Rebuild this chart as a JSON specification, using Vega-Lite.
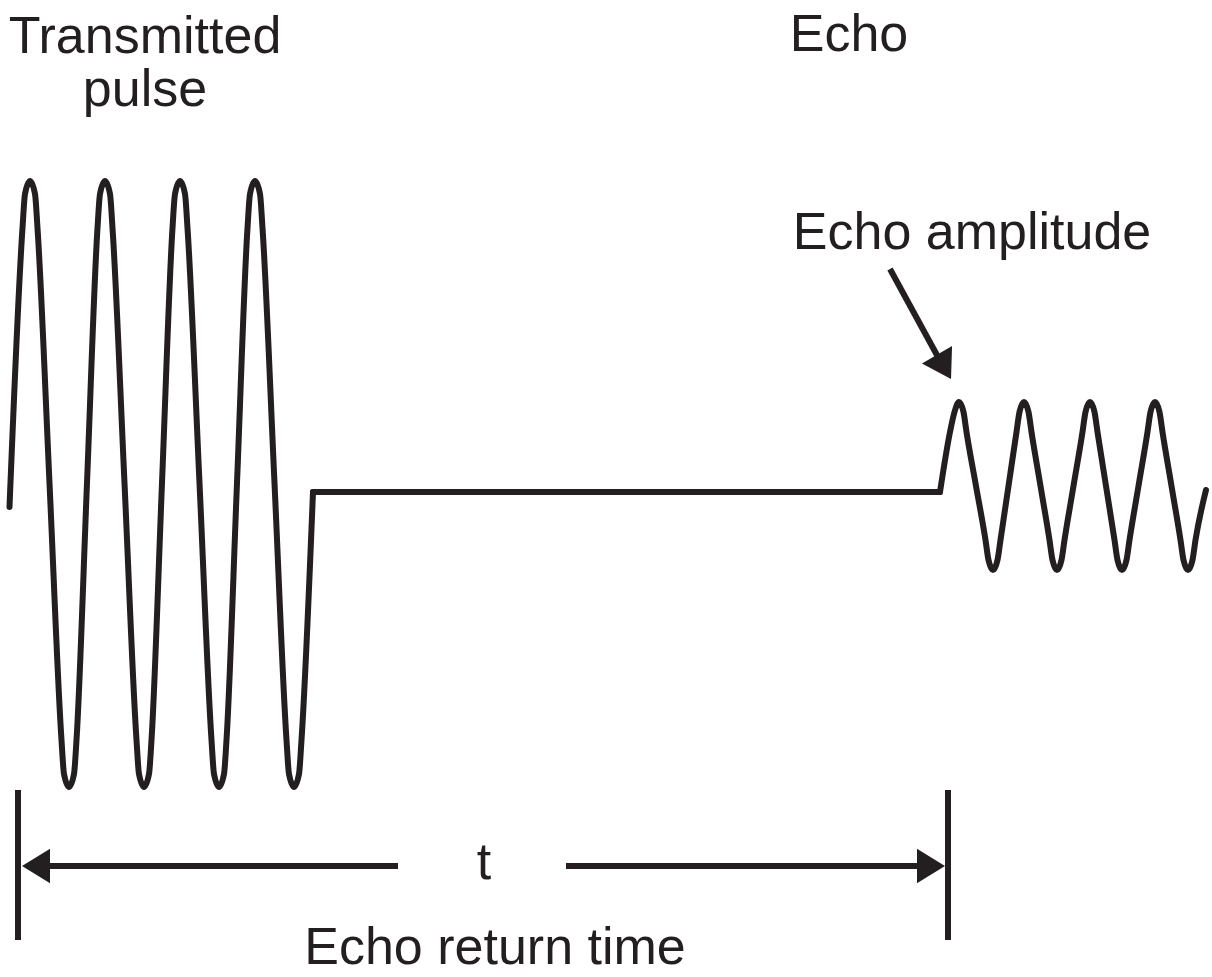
{
  "$schema": "https://vega.github.io/schema/vega-lite/v6.json",
  "width": 1212,
  "height": 977,
  "autosize": {"type": "fit", "contains": "padding"},
  "padding": 0,
  "background": "white",
  "config": {"view": {"stroke": null}},
  "datasets": {
    "wave": [
      {"s": "tx", "x": 9.5, "y": 507}, {"s": "tx", "x": 22.5, "y": 228}, {"s": "tx", "x": 25, "y": 194}, {"s": "tx", "x": 30, "y": 181},
      {"s": "tx", "x": 35, "y": 194}, {"s": "tx", "x": 37.5, "y": 228}, {"s": "tx", "x": 49.5, "y": 483}, {"s": "tx", "x": 61.5, "y": 740},
      {"s": "tx", "x": 64, "y": 774}, {"s": "tx", "x": 69, "y": 787}, {"s": "tx", "x": 74, "y": 774}, {"s": "tx", "x": 76.5, "y": 740},
      {"s": "tx", "x": 87, "y": 483}, {"s": "tx", "x": 97.5, "y": 228}, {"s": "tx", "x": 100, "y": 194}, {"s": "tx", "x": 105, "y": 181},
      {"s": "tx", "x": 110, "y": 194}, {"s": "tx", "x": 112.5, "y": 228}, {"s": "tx", "x": 124.5, "y": 483}, {"s": "tx", "x": 136.5, "y": 740},
      {"s": "tx", "x": 139, "y": 774}, {"s": "tx", "x": 144, "y": 787}, {"s": "tx", "x": 149, "y": 774}, {"s": "tx", "x": 151.5, "y": 740},
      {"s": "tx", "x": 162, "y": 483}, {"s": "tx", "x": 172.5, "y": 228}, {"s": "tx", "x": 175, "y": 194}, {"s": "tx", "x": 180, "y": 181},
      {"s": "tx", "x": 185, "y": 194}, {"s": "tx", "x": 187.5, "y": 228}, {"s": "tx", "x": 199.5, "y": 483}, {"s": "tx", "x": 211.5, "y": 740},
      {"s": "tx", "x": 214, "y": 774}, {"s": "tx", "x": 219, "y": 787}, {"s": "tx", "x": 224, "y": 774}, {"s": "tx", "x": 226.5, "y": 740},
      {"s": "tx", "x": 237, "y": 483}, {"s": "tx", "x": 247.5, "y": 228}, {"s": "tx", "x": 250, "y": 194}, {"s": "tx", "x": 255, "y": 181},
      {"s": "tx", "x": 260, "y": 194}, {"s": "tx", "x": 262.5, "y": 228}, {"s": "tx", "x": 274.5, "y": 483}, {"s": "tx", "x": 286.5, "y": 740},
      {"s": "tx", "x": 289, "y": 774}, {"s": "tx", "x": 294, "y": 787}, {"s": "tx", "x": 299, "y": 774}, {"s": "tx", "x": 301.5, "y": 740},
      {"s": "tx", "x": 313, "y": 492},
      {"s": "echo", "x": 940, "y": 492}, {"s": "echo", "x": 950, "y": 432}, {"s": "echo", "x": 954.5, "y": 412}, {"s": "echo", "x": 959, "y": 402},
      {"s": "echo", "x": 963.5, "y": 412}, {"s": "echo", "x": 966.5, "y": 432}, {"s": "echo", "x": 976, "y": 486}, {"s": "echo", "x": 985.5, "y": 540},
      {"s": "echo", "x": 988.5, "y": 560}, {"s": "echo", "x": 993, "y": 570}, {"s": "echo", "x": 997.5, "y": 560}, {"s": "echo", "x": 1000.5, "y": 540},
      {"s": "echo", "x": 1008.5, "y": 486}, {"s": "echo", "x": 1016.5, "y": 432}, {"s": "echo", "x": 1019.5, "y": 412}, {"s": "echo", "x": 1024, "y": 402},
      {"s": "echo", "x": 1028.5, "y": 412}, {"s": "echo", "x": 1031.5, "y": 432}, {"s": "echo", "x": 1040.5, "y": 486}, {"s": "echo", "x": 1049.5, "y": 540},
      {"s": "echo", "x": 1052.5, "y": 560}, {"s": "echo", "x": 1057, "y": 570}, {"s": "echo", "x": 1061.5, "y": 560}, {"s": "echo", "x": 1064.5, "y": 540},
      {"s": "echo", "x": 1073.5, "y": 486}, {"s": "echo", "x": 1082.5, "y": 432}, {"s": "echo", "x": 1085.5, "y": 412}, {"s": "echo", "x": 1090, "y": 402},
      {"s": "echo", "x": 1094.5, "y": 412}, {"s": "echo", "x": 1097.5, "y": 432}, {"s": "echo", "x": 1106, "y": 486}, {"s": "echo", "x": 1114.5, "y": 540},
      {"s": "echo", "x": 1117.5, "y": 560}, {"s": "echo", "x": 1122, "y": 570}, {"s": "echo", "x": 1126.5, "y": 560}, {"s": "echo", "x": 1129.5, "y": 540},
      {"s": "echo", "x": 1138.5, "y": 486}, {"s": "echo", "x": 1147.5, "y": 432}, {"s": "echo", "x": 1150.5, "y": 412}, {"s": "echo", "x": 1155, "y": 402},
      {"s": "echo", "x": 1159.5, "y": 412}, {"s": "echo", "x": 1162.5, "y": 432}, {"s": "echo", "x": 1171.5, "y": 486}, {"s": "echo", "x": 1180.5, "y": 540},
      {"s": "echo", "x": 1183.5, "y": 560}, {"s": "echo", "x": 1188, "y": 570}, {"s": "echo", "x": 1192.5, "y": 560}, {"s": "echo", "x": 1195.5, "y": 540},
      {"s": "echo", "x": 1206, "y": 490}
    ],
    "base": [
      {"x": 313, "y": 492}, {"x": 940, "y": 492}
    ],
    "rules": [
      {"x": 18, "y": 790, "x2": 18, "y2": 940},
      {"x": 948, "y": 790, "x2": 948, "y2": 940},
      {"x": 40, "y": 866, "x2": 398, "y2": 866},
      {"x": 566, "y": 866, "x2": 925, "y2": 866},
      {"x": 890, "y": 269, "x2": 938, "y2": 357}
    ],
    "heads": [
      {"x": 22, "y": 866, "dir": "left"},
      {"x": 945, "y": 866, "dir": "right"},
      {"x": 951, "y": 379, "dir": "diag"}
    ],
    "labels": [
      {"x": 145, "y": 53, "text": "Transmitted"},
      {"x": 145, "y": 106, "text": "pulse"},
      {"x": 849, "y": 51, "text": "Echo"},
      {"x": 972, "y": 249, "text": "Echo amplitude"},
      {"x": 484, "y": 879, "text": "t"},
      {"x": 495, "y": 964, "text": "Echo return time"}
    ]
  },
  "layer": [
    {
      "data": {"name": "wave"},
      "mark": {"type": "line", "interpolate": "monotone", "color": "#231f20", "strokeWidth": 6, "strokeCap": "round", "strokeJoin": "round"},
      "encoding": {
        "x": {"field": "x", "type": "quantitative", "scale": {"domain": [0, 1212], "nice": false, "zero": false}, "axis": null},
        "y": {"field": "y", "type": "quantitative", "scale": {"domain": [0, 977], "reverse": true, "nice": false, "zero": false}, "axis": null},
        "detail": {"field": "s", "type": "nominal"}
      }
    },
    {
      "data": {"name": "base"},
      "mark": {"type": "line", "color": "#231f20", "strokeWidth": 6, "strokeCap": "round"},
      "encoding": {
        "x": {"field": "x", "type": "quantitative"},
        "y": {"field": "y", "type": "quantitative"}
      }
    },
    {
      "data": {"name": "rules"},
      "mark": {"type": "rule", "color": "#231f20", "strokeWidth": 6},
      "encoding": {
        "x": {"field": "x", "type": "quantitative"},
        "y": {"field": "y", "type": "quantitative"},
        "x2": {"field": "x2"},
        "y2": {"field": "y2"}
      }
    },
    {
      "data": {"name": "heads"},
      "transform": [{"filter": "datum.dir === 'left'"}],
      "mark": {"type": "point", "shape": "M0,0L-1,-0.62L-1,0.62Z", "filled": true, "color": "#231f20", "opacity": 1, "size": 3136, "strokeWidth": 0, "angle": 180},
      "encoding": {
        "x": {"field": "x", "type": "quantitative"},
        "y": {"field": "y", "type": "quantitative"}
      }
    },
    {
      "data": {"name": "heads"},
      "transform": [{"filter": "datum.dir === 'right'"}],
      "mark": {"type": "point", "shape": "M0,0L-1,-0.62L-1,0.62Z", "filled": true, "color": "#231f20", "opacity": 1, "size": 3136, "strokeWidth": 0, "angle": 0},
      "encoding": {
        "x": {"field": "x", "type": "quantitative"},
        "y": {"field": "y", "type": "quantitative"}
      }
    },
    {
      "data": {"name": "heads"},
      "transform": [{"filter": "datum.dir === 'diag'"}],
      "mark": {"type": "point", "shape": "M0,0L-1,-0.62L-1,0.62Z", "filled": true, "color": "#231f20", "opacity": 1, "size": 3136, "strokeWidth": 0, "angle": 60},
      "encoding": {
        "x": {"field": "x", "type": "quantitative"},
        "y": {"field": "y", "type": "quantitative"}
      }
    },
    {
      "data": {"name": "labels"},
      "mark": {"type": "text", "font": "Liberation Sans", "fontSize": 52, "color": "#231f20", "align": "center", "baseline": "alphabetic"},
      "encoding": {
        "x": {"field": "x", "type": "quantitative"},
        "y": {"field": "y", "type": "quantitative"},
        "text": {"field": "text", "type": "nominal"}
      }
    }
  ]
}
